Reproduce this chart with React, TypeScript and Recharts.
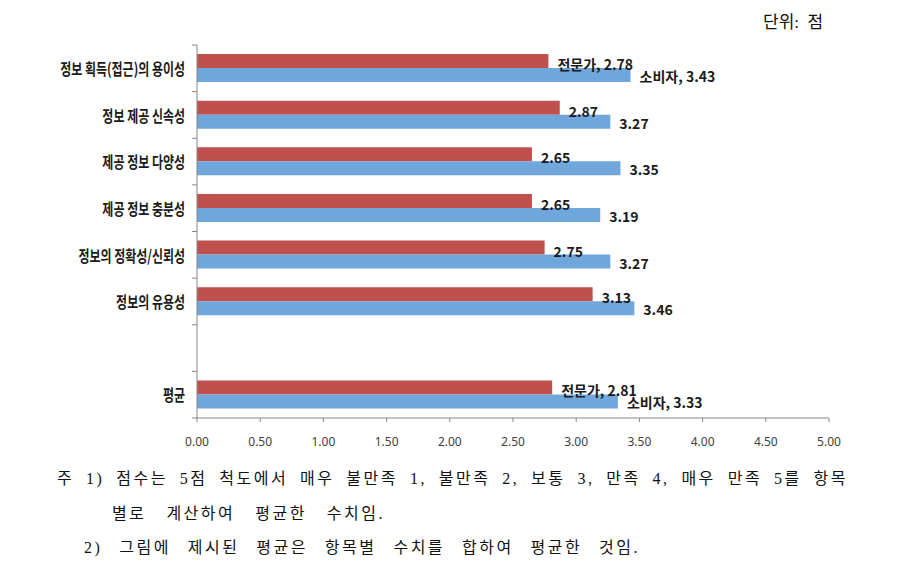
import React from 'react';
import {Bar, BarChart, LabelList, XAxis, YAxis} from 'recharts';

const categories = [
  '정보 획득(접근)의 용이성',
  '정보 제공 신속성',
  '제공 정보 다양성',
  '제공 정보 충분성',
  '정보의 정확성/신뢰성',
  '정보의 유용성',
  '',
  '평균',
];
const expertScores = [2.78, 2.87, 2.65, 2.65, 2.75, 3.13, null, 2.81];
const consumerScores = [3.43, 3.27, 3.35, 3.19, 3.27, 3.46, null, 3.33];
const seriesNames = ['전문가', '소비자'];
// rows where the series name is written in front of the value
const namedRows = ['정보 획득(접근)의 용이성', '평균'];
const xTicks = [0, 0.5, 1, 1.5, 2, 2.5, 3, 3.5, 4, 4.5, 5];

const unitText = '단위:  점';
const notes = [
  '주 1) 점수는 5점 척도에서 매우 불만족 1, 불만족 2, 보통 3, 만족 4, 매우 만족 5를 항목',
  '별로 계산하여 평균한 수치임.',
  '2) 그림에 제시된 평균은 항목별 수치를 합하여 평균한 것임.',
];

const labelText = (name: string, seriesIdx: number, v: number | null) => {
  if (v == null) {
    return null;
  }
  const prefix = namedRows.includes(name) ? `${seriesNames[seriesIdx]}, ` : '';
  return prefix + v.toFixed(2);
};

const data = categories.map((name, i) => ({
  name,
  expert: expertScores[i],
  consumer: consumerScores[i],
  expertLabel: labelText(name, 0, expertScores[i]),
  consumerLabel: labelText(name, 1, consumerScores[i]),
}));

const CHART_W = 860;
const CHART_H = 460;
const TOP = 45;
const LEFT = 197;
const RIGHT_MARGIN = 31;
const X_AXIS_H = 42;
const BAND = (CHART_H - TOP - X_AXIS_H) / categories.length;
const AXIS_COLOR = '#868686';
const KR_FONT = '"Noto Sans CJK KR", "Noto Sans", sans-serif';
const SERIF_FONT = '"Liberation Serif", "DejaVu Serif", "Noto Sans CJK KR", serif';

const CategoryTick = ({y, payload, index}: any) => (
  <g>
    <text
      transform={`translate(${LEFT - 12},${y}) scale(0.75,1)`}
      textAnchor="end"
      dominantBaseline="central"
      fontSize={16}
      fontWeight={700}
      fontFamily={KR_FONT}
      fill="#1a1a1a"
    >
      {payload.value}
    </text>
    {index === 0 && <line x1={LEFT - 5} x2={LEFT} y1={y - BAND / 2} y2={y - BAND / 2} stroke={AXIS_COLOR}/>}
    <line x1={LEFT - 5} x2={LEFT} y1={y + BAND / 2} y2={y + BAND / 2} stroke={AXIS_COLOR}/>
  </g>
);

const makeLabel = (dy: number) => (props: any) => {
  const {x, y, width, height, value} = props;
  if (value == null || value === '') {
    return null;
  }
  return (
    <text
      x={x + width + 9}
      y={y + height / 2 + dy}
      dominantBaseline="central"
      fontSize={14}
      fontWeight={700}
      fontFamily={KR_FONT}
      fill="#1a1a1a"
    >
      {value}
    </text>
  );
};

const noteStyle: React.CSSProperties = {
  position: 'absolute', fontSize: 16, lineHeight: '34px', fontFamily: SERIF_FONT, color: '#111',
  textAlign: 'justify', textAlignLast: 'justify', letterSpacing: 2.5, whiteSpace: 'nowrap',
};

const App = () => (
  <div style={{position: 'absolute', left: 0, top: 0, width: 899, height: 580, background: '#fff'}}>
    <div style={{
      position: 'absolute', left: 763, top: 8, fontSize: 17, fontFamily: SERIF_FONT, color: '#111',
      whiteSpace: 'pre',
    }}>
      {unitText}
    </div>

    <div style={{position: 'absolute', left: 0, top: 0}}>
      <BarChart
        width={CHART_W}
        height={CHART_H}
        data={data}
        layout="vertical"
        margin={{top: TOP, right: RIGHT_MARGIN, bottom: 0, left: 0}}
        barGap={0}
      >
        <XAxis
          type="number"
          domain={[0, 5]}
          ticks={xTicks}
          tickFormatter={(v: number) => v.toFixed(2)}
          height={X_AXIS_H}
          tickSize={4}
          tickMargin={15}
          stroke={AXIS_COLOR}
          tick={{fontSize: 12, fill: '#404040', fontFamily: '"Noto Sans", sans-serif'}}
          interval={0}
        />
        <XAxis
          xAxisId="top"
          orientation="top"
          type="number"
          domain={[0, 5]}
          height={0}
          tick={false}
          tickLine={false}
          stroke={AXIS_COLOR}
        />
        <YAxis
          type="category"
          dataKey="name"
          width={LEFT}
          interval={0}
          tickLine={false}
          stroke={AXIS_COLOR}
          tick={(props: any) => <CategoryTick {...props}/>}
        />
        <YAxis
          yAxisId="right"
          orientation="right"
          type="category"
          dataKey="name"
          width={0}
          tick={false}
          tickLine={false}
          stroke={AXIS_COLOR}
        />
        <Bar dataKey="expert" fill="#C0504D" barSize={14} isAnimationActive={false}>
          <LabelList dataKey="expertLabel" content={makeLabel(3)}/>
        </Bar>
        <Bar dataKey="consumer" fill="#6FA6DC" barSize={14} isAnimationActive={false}>
          <LabelList dataKey="consumerLabel" content={makeLabel(1)}/>
        </Bar>
      </BarChart>
    </div>

    <div style={{...noteStyle, left: 57, top: 462, width: 791}}>{notes[0]}</div>
    <div style={{...noteStyle, left: 112, top: 497, width: 273}}>{notes[1]}</div>
    <div style={{...noteStyle, left: 84, top: 531, width: 556}}>{notes[2]}</div>
  </div>
);

export default App;
